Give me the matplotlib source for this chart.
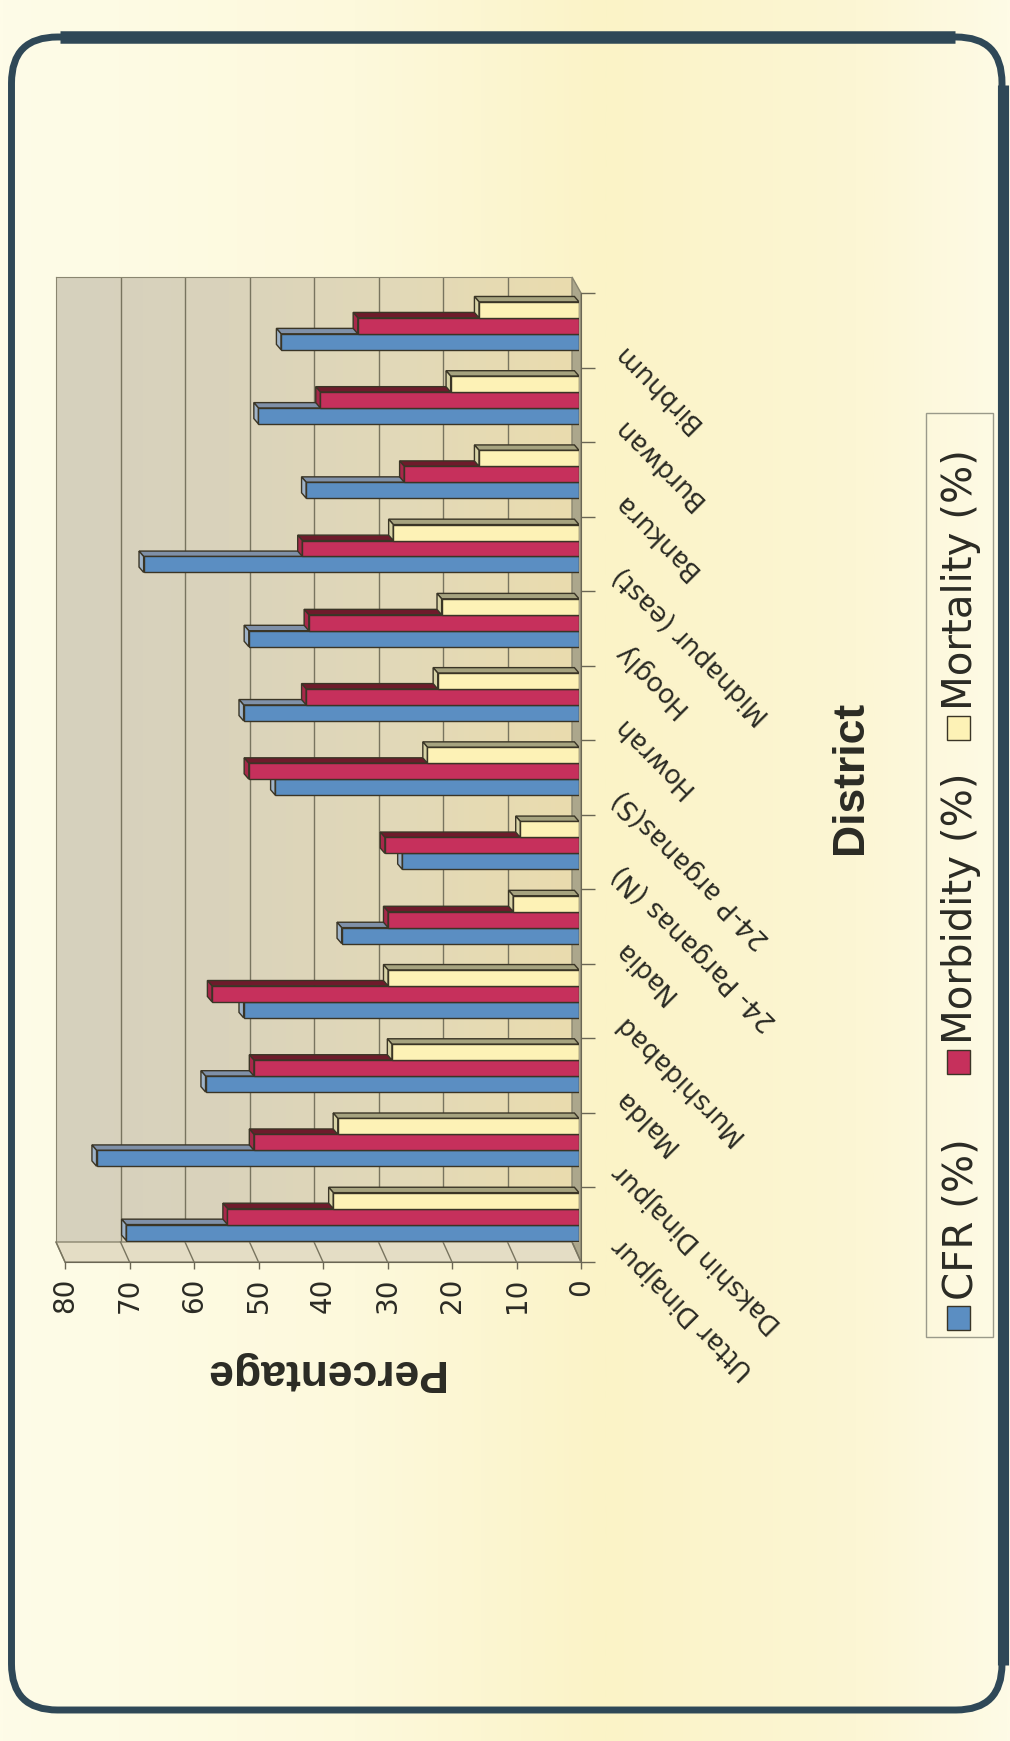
import numpy as np
import matplotlib.pyplot as plt
from matplotlib.colors import LinearSegmentedColormap
from matplotlib.patches import FancyBboxPatch, Polygon, Rectangle
from matplotlib.lines import Line2D
from matplotlib.transforms import blended_transform_factory

# district-wise rates, listed from the bottom of the chart upwards
districts = ['Uttar Dinajpur', 'Dakshin Dinajpur', 'Malda', 'Murshidabad', 'Nadia',
             '24- Parganas (N)', '24-P arganas(S)', 'Howrah', 'Hoogly',
             'Midnapur (east)', 'Bankura', 'Burdwan', 'Birbhum']
cfr = [70.2, 74.8, 57.9, 52.0, 36.8, 27.4, 47.1, 52.0, 51.2, 67.5, 42.3, 49.7, 46.2]
morbidity = [54.5, 50.4, 50.4, 56.9, 29.6, 30.1, 51.2, 42.3, 41.9, 42.9, 27.1, 40.1, 34.3]
mortality = [38.1, 37.4, 29.0, 29.6, 10.2, 9.1, 23.5, 21.9, 21.3, 28.8, 15.5, 19.9, 15.5]
series_names = ['CFR (%)', 'Morbidity (%)', 'Mortality (%)']
value_ticks = list(range(0, 90, 10))

front_colors = ['#5b8ec2', '#c6305c', '#fdf2b6']
side_colors = ['#7f90a8', '#6e1b2b', '#a6a37f']
cap_colors = ['#9fb3c8', '#a8284a', '#d8d3a6']
edge = '#3a3526'
txt = '#2b2b24'

W, H = 1010, 1741
fig = plt.figure(figsize=(W / 100, H / 100), dpi=100)


def box(x0, y0, x1, y1):
    # pixel box measured from the top-left corner -> figure fraction rect
    return [x0 / W, 1 - y1 / H, (x1 - x0) / W, (y1 - y0) / H]


# page background and rounded frame
bg = fig.add_axes([0, 0, 1, 1], zorder=-2)
page = LinearSegmentedColormap.from_list(
    'page', [(0, '#fefce8'), (0.35, '#fdf9dc'), (0.6, '#fbf3c7'), (0.85, '#fcf6d4'), (1, '#fefbe6')])
bg.imshow(np.linspace(0, 1, 512)[None, :], cmap=page, aspect='auto', extent=(0, W, H, 0))
bg.set_xlim(0, W)
bg.set_ylim(H, 0)
bg.axis('off')
bg.add_patch(FancyBboxPatch((11.5, 37), 990.5, 1673, boxstyle='round,pad=0,rounding_size=46',
                            fc='none', ec='#2f4857', lw=5))
bg.plot([60, 955], [37, 37], color='#2f4857', lw=9, solid_capstyle='butt')
bg.plot([1003, 1003], [85, 1665], color='#2f4857', lw=8, solid_capstyle='butt')

# back wall with gridlines
axb = fig.add_axes(box(56, 277, 572, 1242), zorder=0)
wall = LinearSegmentedColormap.from_list('wall', ['#d6d1be', '#dad3bb', '#e2d9b8', '#eadcae'])
axb.imshow(np.linspace(0, 1, 256)[None, :], cmap=wall, aspect='auto', extent=(80, 0, 0, 13))
axb.set_xlim(80, 0)
axb.set_ylim(0, 13)
axb.set_xticks(value_ticks[1:-1])
axb.set_yticks([])
axb.grid(axis='x', color='#78745f', lw=1)
axb.tick_params(length=0, labelbottom=False)
for s in ['bottom', 'right']:
    axb.spines[s].set_visible(False)
for s in ['top', 'left']:
    axb.spines[s].set_color('#8a8670')

# bars sit slightly in front of the wall
axm = fig.add_axes(box(63, 277, 579, 1242), zorder=2)
axm.set_xlim(80, 0)
axm.set_ylim(0, 13)
axm.axis('off')

# front edge carries the axes, ticks and labels
axf = fig.add_axes(box(65, 293, 581, 1262), zorder=3)
axf.set_xlim(80, 0)
axf.set_ylim(0, 13)
axf.patch.set_visible(False)

to_fig = fig.transFigure.inverted()


def fxy(ax, x, y):
    return to_fig.transform(ax.transData.transform((x, y)))


# floor strip on the right and side wall along the bottom
floor = [fxy(axb, 0, 13), fxy(axb, 0, 0), fxy(axf, 0, 0), fxy(axf, 0, 13)]
fig.add_artist(Polygon(floor, closed=True, fc='#aca78c', ec='#8a8670', lw=1,
                       transform=fig.transFigure, zorder=1))
side = [fxy(axb, 80, 0), fxy(axb, 0, 0), fxy(axf, 0, 0), fxy(axf, 80, 0)]
fig.add_artist(Polygon(side, closed=True, fc='#e4ddc5', ec='#8a8670', lw=1,
                       transform=fig.transFigure, zorder=1))
for v in value_ticks:
    p0, p1 = fxy(axb, v, 0), fxy(axf, v, 0)
    fig.add_artist(Line2D([p0[0], p1[0]], [p0[1], p1[1]], color='#78745f', lw=1,
                          transform=fig.transFigure, zorder=1))

# 3-D looking bars
bar_h = 0.215
offsets = [0.02, 0.235, 0.45]
dx = 4.6 / 6.45
dy = 5.4 / (965 / 13)
for j in range(len(districts)):
    for k, vals in enumerate([cfr, morbidity, mortality]):
        v = vals[j]
        b = j + offsets[k]
        t = b + bar_h
        axm.fill([0, v, v + dx, dx], [t, t, t + dy, t + dy], fc=side_colors[k], ec=edge, lw=1)
        axm.fill([v, v, v + dx, v + dx], [b, t, t + dy, b + dy], fc=cap_colors[k], ec=edge, lw=1)
        axm.barh(b + bar_h / 2, v, height=bar_h, color=front_colors[k], ec=edge, lw=1)

axf.set_xticks(value_ticks)
axf.set_xticklabels([str(v) for v in value_ticks], rotation=90, fontsize=20,
                    color=txt, family='DejaVu Sans')
axf.tick_params(axis='x', length=5, pad=6.5, color='#6a6654', width=1)
axf.yaxis.tick_right()
axf.set_yticks(range(len(districts) + 1))
axf.tick_params(axis='y', length=10, labelright=False, color='#6a6654', width=1)
axf.spines['top'].set_visible(False)
axf.spines['left'].set_visible(False)
axf.spines['bottom'].set_color('#6a6654')
axf.spines['right'].set_color('#6a6654')

trans = blended_transform_factory(axf.transAxes, axf.transData)
for j, name in enumerate(districts):
    axf.text(1.07, j + 0.27, name, transform=trans, rotation=135, rotation_mode='anchor',
             ha='right', va='center', fontsize=19, color=txt, family='DejaVu Sans')

# axis titles
bg.text(323, 1360, 'Percentage', rotation=180, rotation_mode='anchor', ha='center',
        va='baseline', fontsize=32, fontweight='bold', color=txt, family='Liberation Sans')
bg.text(862, 777, 'District', rotation=90, rotation_mode='anchor', ha='center',
        va='baseline', fontsize=32, fontweight='bold', color=txt, family='Liberation Sans')

# legend, written along the right edge
bg.add_patch(Rectangle((926, 413), 67, 924, fc='none', ec='#9a9a8a', lw=1))
square_tops = [1306, 1050, 716]
for name, color, top in zip(series_names, front_colors, square_tops):
    bg.add_patch(Rectangle((947, top), 23, 24, fc=color, ec=edge, lw=1))
    bg.text(972, top - 6, name, rotation=90, rotation_mode='anchor', ha='left',
            va='baseline', fontsize=29, color=txt, family='DejaVu Sans')

fig.savefig('out.png', dpi=100)
